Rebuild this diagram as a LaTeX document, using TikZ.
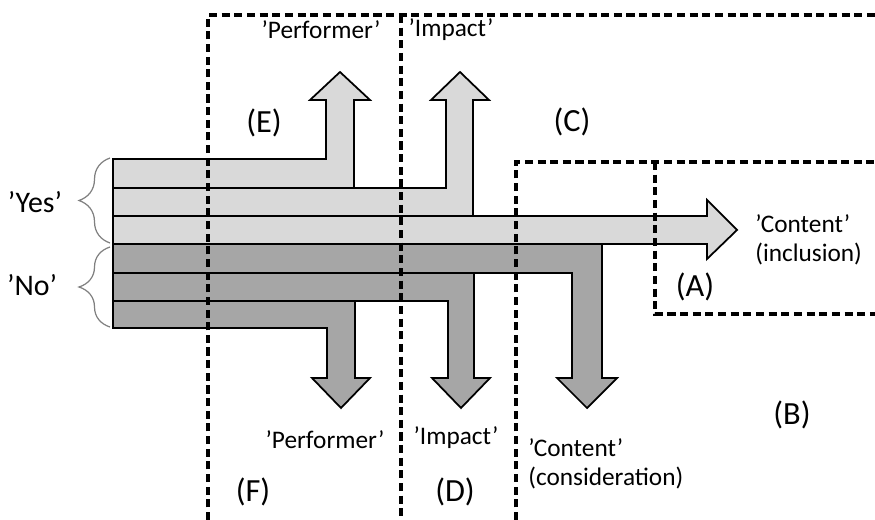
\documentclass[tikz,border=0pt]{standalone}
\usepackage{fontspec}
\setmainfont{Carlito}
\usetikzlibrary{calc,decorations.pathreplacing}

\definecolor{lightband}{HTML}{D9D9D9}
\definecolor{darkband}{HTML}{A6A6A6}

\tikzset{
  band/.style={draw=black,line width=1pt,line join=miter},
  region/.style={draw=black,line width=2.2pt,dash pattern=on 4.6pt off 2.6pt},
  quoted/.style={font=\fontsize{14.4}{16.5}\selectfont,inner sep=0pt},
  letter/.style={font=\fontsize{18.4}{21}\selectfont,inner sep=0pt},
  answer/.style={font=\fontsize{17}{20}\selectfont,inner sep=0pt},
  bracket/.style={draw=gray,line width=0.7pt,decorate,
    decoration={brace,amplitude=0.62cm,aspect=0.5}}
}

\begin{document}
\begin{tikzpicture}[x=0.02cm,y=-0.02cm]
    \useasboundingbox (0,0) rectangle (875,520);

    % corners of the dashed regions
    \coordinate (R0) at (208,520);
    \coordinate (R1) at (208,15);
    \coordinate (R2) at (875,15);
    \coordinate (R3) at (401,15);
    \coordinate (R4) at (401,520);
    \coordinate (R5) at (516,520);
    \coordinate (R6) at (516,162);
    \coordinate (R7) at (875,162);
    \coordinate (R8) at (655,162);
    \coordinate (R9) at (655,314);
    \coordinate (R10) at (875,314);

    % 'Yes' bands
    \draw [band,fill=lightband] (113,159) -- (326,159) -- (326,100) -- (310,100)
        -- (340,72) -- (370,100) -- (354,100) -- (354,188) -- (113,188) -- cycle;
    \draw [band,fill=lightband] (113,188) -- (446,188) -- (446,100) -- (431,100)
        -- (460,72) -- (489,100) -- (473,100) -- (473,216) -- (113,216) -- cycle;
    \draw [band,fill=lightband] (113,216) -- (707,216) -- (707,200) -- (737,230)
        -- (707,259) -- (707,244) -- (113,244) -- cycle;

    % 'No' bands
    \draw [band,fill=darkband] (113,244) -- (602,244) -- (602,378) -- (617,378)
        -- (587,408) -- (557,378) -- (572,378) -- (572,273) -- (113,273) -- cycle;
    \draw [band,fill=darkband] (113,273) -- (474,273) -- (474,378) -- (490,378)
        -- (461,408) -- (432,378) -- (448,378) -- (448,301) -- (113,301) -- cycle;
    \draw [band,fill=darkband] (113,301) -- (355,301) -- (355,378) -- (370,378)
        -- (341,408) -- (312,378) -- (327,378) -- (327,328) -- (113,328) -- cycle;

    % regions
    \draw [region] (R0) -- (R1) -- (R2);
    \draw [region] (R3) -- (R4);
    \draw [region] (R5) -- (R6) -- (R7);
    \draw [region] (R8) -- (R9) -- (R10);

    % braces
    \draw [bracket] (110,243) -- (110,158);
    \draw [bracket] (110,327) -- (110,247);

    \node [answer] (yes) at (35,202) {'Yes'};
    \node [answer] (no) at (32,285) {'No'};

    \node [quoted] (perfup) at (321,30) {'Performer'};
    \node [quoted] (impup) at (451,30) {'Impact'};
    \node [quoted] (perfdown) at (325,440) {'Performer'};
    \node [quoted] (impdown) at (456,438) {'Impact'};
    \node [quoted,anchor=west,align=left] (contin) at (755,240) {'Content'\\(inclusion)};
    \node [quoted,anchor=west,align=left] (contcons) at (528,464) {'Content'\\(consideration)};

    \node [letter] (regA) at (695,287) {(A)};
    \node [letter] (regB) at (792,415) {(B)};
    \node [letter] (regC) at (572,122) {(C)};
    \node [letter] (regD) at (455,492) {(D)};
    \node [letter] (regE) at (264,123) {(E)};
    \node [letter] (regF) at (253,492) {(F)};

\end{tikzpicture}
\end{document}
